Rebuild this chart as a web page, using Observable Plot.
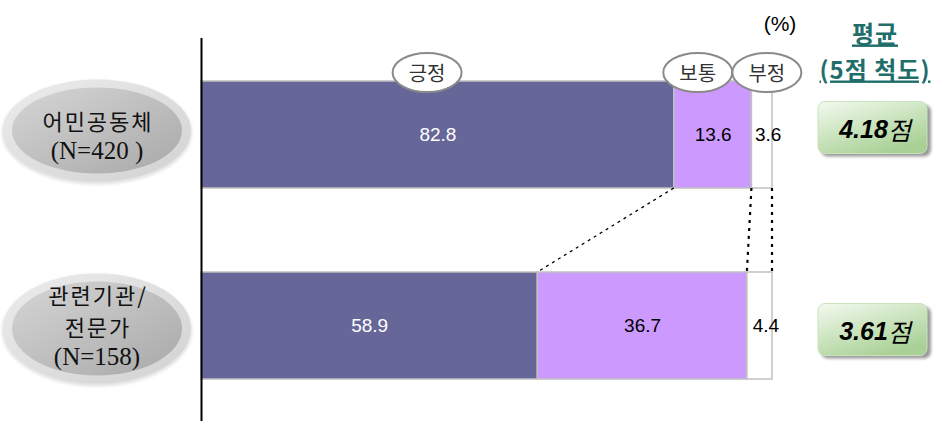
<!DOCTYPE html>
<html><head><meta charset="utf-8">
<script src="https://cdn.jsdelivr.net/npm/d3@7"></script>
<script src="https://cdn.jsdelivr.net/npm/@observablehq/plot@0.6"></script>
<style>body{margin:0;background:#fff} #chart{width:936px;height:421px}</style>
</head><body><div id="chart"></div>
<script>
// ---- data ----
const groups = ["어민공동체", "관련기관/전문가"];
const groupLabels = [["어민공동체", "(N=420 )"], ["관련기관/", "전문가", "(N=158)"]];
const categories = ["긍정", "보통", "부정"];
const positive = [82.8, 58.9];
const neutral = [13.6, 36.7];
const negative = [3.6, 4.4];
const scores = [4.18, 3.61];
const scoreSuffix = "점";
const scoreTitle = ["평균", "(5점 척도)"];
const unitLabel = "(%)";

const series = [positive, neutral, negative];
const rows = groups.flatMap((g, i) => categories.map((c, k) => ({group: g, category: c, value: series[k][i]})));

const FONT = "'Liberation Sans', Arial, sans-serif";
const SERIF = "'Liberation Serif', 'DejaVu Serif', serif";
const KFONT = "'Noto Sans CJK KR', 'Noto Sans', sans-serif";

function labelMark(k, fill, dx) {
  return Plot.text(rows, Plot.stackX({
    x: "value", y: "group",
    text: d => d.category === categories[k] ? d.value.toFixed(1) : "",
    fill, dx, fontSize: 19, fontFamily: FONT
  }));
}

const plot = Plot.plot({
  width: 936, height: 421,
  marginLeft: 201, marginRight: 164, marginTop: 38, marginBottom: 0,
  x: {domain: [0, 100], axis: null},
  y: {type: "band", domain: groups, range: [80, 379], paddingInner: 0.44, paddingOuter: 0, axis: null},
  color: {domain: categories, range: ["#666699", "#cc99ff", "#ffffff"]},
  style: {fontFamily: FONT, background: "#fff", overflow: "visible"},
  marks: [
    Plot.barX(rows, {x: "value", y: "group", fill: "category", stroke: "#c0c0c0", strokeWidth: 1.5}),
    labelMark(0, "white", 0),
    labelMark(1, "black", 0),
    labelMark(2, "black", 6),
    Plot.ruleX([0], {stroke: "#000", strokeWidth: 2})
  ]
});
document.getElementById("chart").appendChild(plot);

// ---- annotations using the plot's scales ----
const xs = plot.scale("x"), ys = plot.scale("y");
const bw = ys.bandwidth;
const X = v => xs.apply(v);
const Y0 = g => ys.apply(g);
const svg = d3.select(plot);
const defs = svg.append("defs");

const gOut = defs.append("linearGradient").attr("id", "gOut").attr("x1", 0).attr("y1", 0).attr("x2", 1).attr("y2", 1);
gOut.append("stop").attr("offset", "0%").attr("stop-color", "#ececec");
gOut.append("stop").attr("offset", "100%").attr("stop-color", "#d2d2d2");
const gIn = defs.append("linearGradient").attr("id", "gIn").attr("x1", 0).attr("y1", 0).attr("x2", 1).attr("y2", 1);
gIn.append("stop").attr("offset", "0%").attr("stop-color", "#d6d6d6");
gIn.append("stop").attr("offset", "100%").attr("stop-color", "#a8a8a8");
const gGreen = defs.append("linearGradient").attr("id", "gGreen").attr("x1", 0).attr("y1", 0).attr("x2", 0.6).attr("y2", 1);
gGreen.append("stop").attr("offset", "0%").attr("stop-color", "#f3faef");
gGreen.append("stop").attr("offset", "100%").attr("stop-color", "#a9d196");
const blur = defs.append("filter").attr("id", "blur").attr("x", "-20%").attr("y", "-20%").attr("width", "140%").attr("height", "140%");
blur.append("feGaussianBlur").attr("stdDeviation", 1.5);

const ann = svg.append("g");

// connector lines between bars
const cumA = [positive[0], positive[0] + neutral[0], 100];
const cumB = [positive[1], positive[1] + neutral[1], 100];
cumA.forEach((c, k) => {
  ann.append("line")
    .attr("x1", X(c)).attr("y1", Y0(groups[0]) + bw)
    .attr("x2", X(cumB[k])).attr("y2", Y0(groups[1]))
    .attr("stroke", "#000").attr("stroke-width", k === 0 ? 1.3 : 2.2)
    .attr("stroke-dasharray", k === 0 ? "3,4" : "3,5");
});

// left group ellipses + labels
const ellOff = [-4, 3], ellRy = [52, 56];
const lineOff = [[-15, 16], [-32, 0, 31]];
groups.forEach((g, i) => {
  const cy = Y0(g) + bw / 2;
  const ecy = cy + ellOff[i];
  ann.append("ellipse").attr("cx", 97).attr("cy", ecy + 2).attr("rx", 95).attr("ry", ellRy[i])
    .attr("fill", "#e2e2e2").attr("filter", "url(#blur)");
  ann.append("ellipse").attr("cx", 97).attr("cy", ecy).attr("rx", 94).attr("ry", ellRy[i] - 1)
    .attr("fill", "url(#gOut)");
  ann.append("ellipse").attr("cx", 97).attr("cy", ecy).attr("rx", 85).attr("ry", ellRy[i] - 9)
    .attr("fill", "url(#gIn)");
  groupLabels[i].forEach((s, j) => {
    const latin = /^\(N=/.test(s);
    ann.append("text").attr("x", 97 + (latin ? 0 : 1)).attr("y", cy + lineOff[i][j])
      .attr("text-anchor", "middle").attr("dominant-baseline", "central")
      .attr("font-family", latin ? SERIF : KFONT).attr("font-size", latin ? 25 : 22)
      .attr("letter-spacing", latin ? 0 : 2)
      .attr("fill", "#111").text(s);
  });
});

// category badges
const badgeX = [39.6, 87.0, 99.1];
categories.forEach((c, k) => {
  const cx = X(badgeX[k]), cy = 72.5;
  ann.append("ellipse").attr("cx", cx).attr("cy", cy).attr("rx", 34.5).attr("ry", 19.5)
    .attr("fill", "#fff").attr("stroke", "#8a8a8a").attr("stroke-width", 2);
  ann.append("text").attr("x", cx).attr("y", cy).attr("text-anchor", "middle").attr("dominant-baseline", "central")
    .attr("font-family", KFONT).attr("font-size", 20).attr("fill", "#333").text(c);
});

// unit label
ann.append("text").attr("x", 780).attr("y", 23).attr("text-anchor", "middle").attr("dominant-baseline", "central")
  .attr("font-family", FONT).attr("font-size", 21).attr("fill", "#000").text(unitLabel);

// score title
scoreTitle.forEach((s, j) => {
  ann.append("text").attr("x", 875).attr("y", 32 + j * 36).attr("text-anchor", "middle").attr("dominant-baseline", "central")
    .attr("font-family", KFONT).attr("font-size", 24).attr("font-weight", "bold").attr("letter-spacing", 1)
    .attr("fill", "#1f6e6a").attr("text-decoration", "underline").text(s);
});

// score boxes
const boxOff = [-6, 5];
groups.forEach((g, i) => {
  const cy = Y0(g) + bw / 2 + boxOff[i];
  ann.append("rect").attr("x", 821).attr("y", cy - 24).attr("width", 110).attr("height", 52).attr("rx", 7)
    .attr("fill", "#9a9a9a").attr("filter", "url(#blur)");
  ann.append("rect").attr("x", 818).attr("y", cy - 27).attr("width", 109).attr("height", 52).attr("rx", 7)
    .attr("fill", "url(#gGreen)").attr("stroke", "#c9e2bd").attr("stroke-width", 1);
  const t = ann.append("text").attr("x", 875).attr("y", cy).attr("text-anchor", "middle").attr("dominant-baseline", "central")
    .attr("font-style", "italic").attr("fill", "#000");
  t.append("tspan").attr("font-family", FONT).attr("font-weight", "bold").attr("font-size", 25).text(scores[i].toFixed(2));
  t.append("tspan").attr("font-family", KFONT).attr("font-size", 25).text(scoreSuffix);
});
</script>
</body></html>
